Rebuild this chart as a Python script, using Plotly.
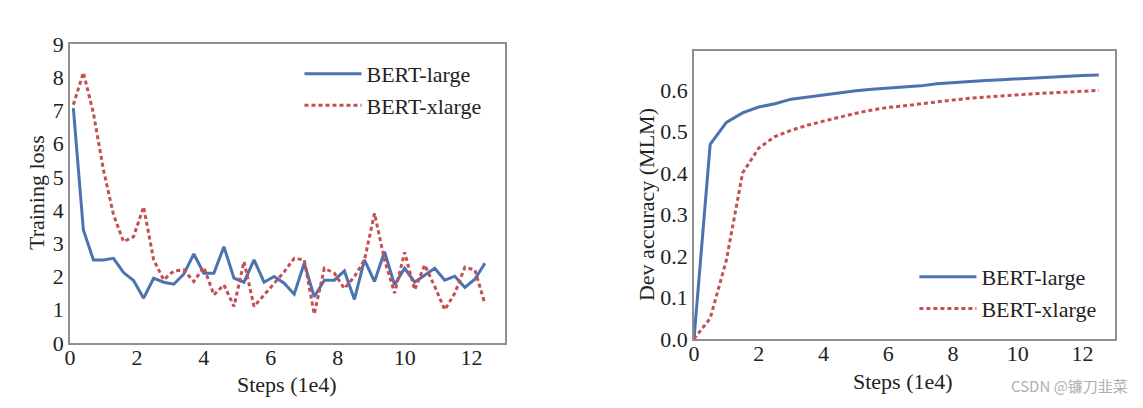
import plotly.graph_objects as go

# Left: training loss
loss_steps = [0.1, 0.4, 0.7, 1.0, 1.3, 1.6, 1.9, 2.2, 2.5, 2.8, 3.1, 3.4, 3.7, 4.0, 4.3, 4.6,
              4.9, 5.2, 5.5, 5.8, 6.1, 6.4, 6.7, 7.0, 7.3, 7.6, 7.9, 8.2, 8.5, 8.8, 9.1, 9.4,
              9.7, 10.0, 10.3, 10.6, 10.9, 11.2, 11.5, 11.8, 12.1, 12.4]
loss_large = [7.07, 3.4, 2.5, 2.5, 2.55, 2.12, 1.88, 1.35, 1.95, 1.83, 1.77, 2.07, 2.68, 2.1,
              2.1, 2.9, 1.95, 1.83, 2.5, 1.83, 2.0, 1.8, 1.47, 2.4, 1.39, 1.89, 1.89, 2.17,
              1.31, 2.5, 1.85, 2.75, 1.75, 2.25, 1.83, 2.05, 2.25, 1.89, 2.01, 1.67, 1.92, 2.4]
loss_xlarge = [7.17, 8.14, 6.92, 5.21, 3.86, 3.05, 3.2, 4.1, 2.5, 1.9, 2.17, 2.2, 1.85, 2.28,
               1.45, 1.75, 1.1, 2.45, 1.1, 1.45, 1.8, 2.14, 2.55, 2.5, 0.87, 2.25, 2.1, 1.64,
               2.0, 2.5, 3.9, 2.5, 1.5, 2.73, 1.6, 2.35, 1.7, 1.0, 1.5, 2.28, 2.2, 1.18]

# Right: dev accuracy
acc_steps = [0, 0.5, 1.0, 1.5, 2.0, 2.5, 3.0, 3.5, 4.0, 4.5, 5.0, 5.5, 6.0, 6.5, 7.0, 7.5,
             8.0, 8.5, 9.0, 9.5, 10.0, 10.5, 11.0, 11.5, 12.0, 12.5]
acc_large = [0.0, 0.469, 0.522, 0.545, 0.559, 0.567, 0.578, 0.583, 0.589, 0.594, 0.598, 0.602,
             0.605, 0.607, 0.610, 0.615, 0.618, 0.620, 0.623, 0.625, 0.627, 0.630, 0.632,
             0.634, 0.635, 0.636]
acc_xlarge = [0.0, 0.05, 0.19, 0.40, 0.46, 0.488, 0.503, 0.515, 0.525, 0.535, 0.544, 0.552,
              0.558, 0.562, 0.567, 0.572, 0.576, 0.580, 0.583, 0.586, 0.589, 0.591, 0.593,
              0.595, 0.597, 0.599]

x_ticks = [0, 2, 4, 6, 8, 10, 12]
loss_ticks = [0, 1, 2, 3, 4, 5, 6, 7, 8, 9]
acc_ticks = [0.0, 0.1, 0.2, 0.3, 0.4, 0.5, 0.6]

BLUE = "#4C72B0"
RED = "#C44E52"
FONT = "Liberation Serif"
TXT = "#222222"
FRAME = "#8f8f8f"

fig = go.Figure()
fig.add_trace(go.Scatter(x=loss_steps, y=loss_large, mode="lines", name="BERT-large",
                         line=dict(color=BLUE, width=3), xaxis="x", yaxis="y", legend="legend"))
fig.add_trace(go.Scatter(x=loss_steps, y=loss_xlarge, mode="lines", name="BERT-xlarge",
                         line=dict(color=RED, width=3, dash="4px,3px"), xaxis="x", yaxis="y",
                         legend="legend"))
fig.add_trace(go.Scatter(x=acc_steps, y=acc_large, mode="lines", name="BERT-large",
                         line=dict(color=BLUE, width=3), xaxis="x2", yaxis="y2", legend="legend2"))
fig.add_trace(go.Scatter(x=acc_steps, y=acc_xlarge, mode="lines", name="BERT-xlarge",
                         line=dict(color=RED, width=3, dash="4px,3px"), xaxis="x2", yaxis="y2",
                         legend="legend2"))

axis_common = dict(showgrid=False, zeroline=False, showline=True, mirror=True,
                   linecolor=FRAME, linewidth=1.5, ticks="", automargin=False,
                   tickfont=dict(family=FONT, size=22, color=TXT))

title_font = dict(family=FONT, size=22, color=TXT)

def label(text, x, y, angle=0):
    return dict(text=text, x=x, y=y, xref="paper", yref="paper", xanchor="center",
                yanchor="middle", showarrow=False, textangle=angle, font=title_font)

fig.update_layout(
    width=1143, height=408,
    margin=dict(l=0, r=0, t=0, b=0),
    paper_bgcolor="white", plot_bgcolor="white",
    font=dict(family=FONT, size=22, color=TXT),
    xaxis=dict(domain=[0.05424, 0.43483], range=[0, 13], tickvals=x_ticks,
               ticklabelstandoff=-6, anchor="y", **axis_common),
    yaxis=dict(domain=[0.1789, 0.9118], range=[0, 9], tickvals=loss_ticks,
               anchor="x", **axis_common),
    xaxis2=dict(domain=[0.60017, 0.96850], range=[0, 13], tickvals=x_ticks,
                ticklabelstandoff=-6, anchor="y2", **axis_common),
    yaxis2=dict(domain=[0.1887, 0.8946], range=[0, 0.694], tickvals=acc_ticks, tickformat=".1f",
                anchor="x2", **axis_common),
    legend=dict(x=0.255, y=0.890, xanchor="left", yanchor="top", bgcolor="rgba(0,0,0,0)",
                font=dict(family=FONT, size=22, color=TXT), itemwidth=57, tracegroupgap=0),
    legend2=dict(x=0.793, y=0.392, xanchor="left", yanchor="top", bgcolor="rgba(0,0,0,0)",
                 font=dict(family=FONT, size=22, color=TXT), itemwidth=57, tracegroupgap=0),
    annotations=[
        label("Steps (1e4)", 0.2441, 0.0784),
        label("Steps (1e4)", 0.7830, 0.0857),
        label("Training loss", 0.0254, 0.5466, -90),
        label("Dev accuracy (MLM)", 0.5591, 0.5172, -90),
        dict(text="CSDN @镰刀韭菜", x=0.982, y=0.045, xref="paper", yref="paper",
             xanchor="right", yanchor="bottom", showarrow=False,
             font=dict(family="Noto Sans CJK SC", size=15, color="#b0b0b0")),
    ],
)

fig.write_html("out.html")
